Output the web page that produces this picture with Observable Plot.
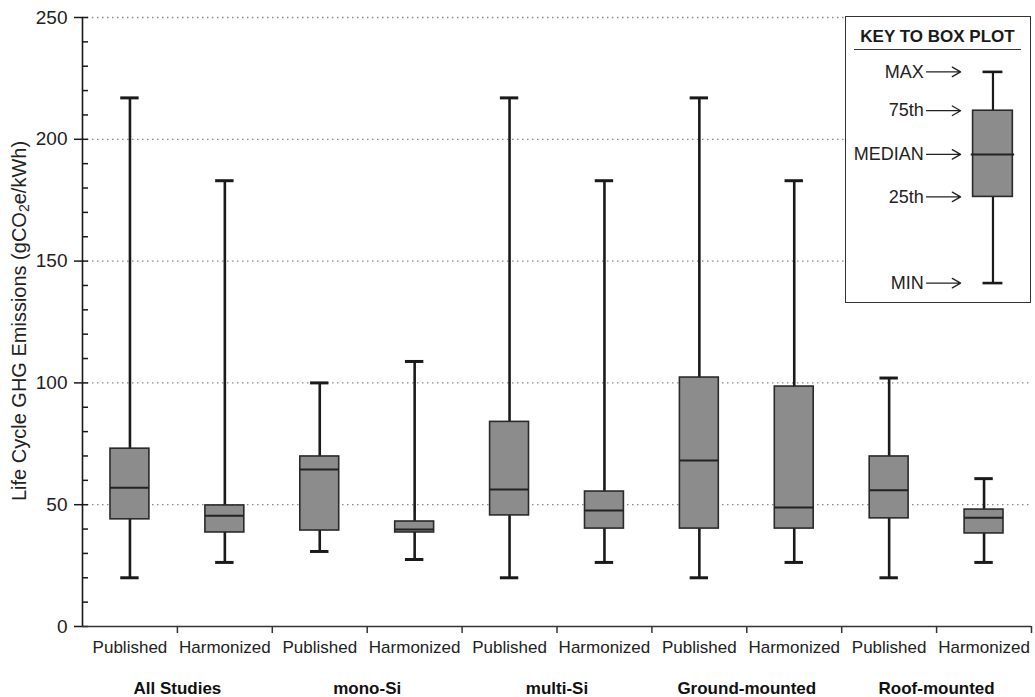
<!DOCTYPE html>
<html>
<head>
<meta charset="utf-8">
<script src="https://cdn.jsdelivr.net/npm/d3@7"></script>
<script src="https://cdn.jsdelivr.net/npm/@observablehq/plot@0.6"></script>
<style>
  html, body { margin: 0; padding: 0; background: #fff; }
  #wrap { position: relative; width: 1035px; height: 697px; font-family: "Liberation Sans", Arial, sans-serif; }
  #key { position: absolute; left: 845px; top: 16px; width: 184px; height: 285px; border: 1.5px solid #333; background: #fff; }
  #key .title { position: absolute; left: 8px; right: 9px; top: 12px; text-align: center; font-weight: bold; font-size: 17px; color: #1a1a1a; border-bottom: 1.5px solid #333; padding-bottom: 4px; line-height: 16px; }
  #keyplot { position: absolute; left: 0; top: 0; }
</style>
</head>
<body>
<div id="wrap">
  <div id="chart"></div>
  <div id="key"><div class="title">KEY TO BOX PLOT</div><div id="keyplot"></div></div>
</div>
<script>
// ---- data ----
const groups = ["All Studies", "mono-Si", "multi-Si", "Ground-mounted", "Roof-mounted"];
const types = ["Published", "Harmonized"];
const mins    = [20,   26.3, 30.8, 27.5, 20,   26.3, 20,    26.3, 20,   26.3];
const q1s     = [44,   38.6, 39.4, 38.6, 45.6, 40.2, 40.2,  40.2, 44.4, 38.2];
const medians = [57,   45.5, 64.4, 39.8, 56.2, 47.6, 68.1,  48.9, 55.9, 44.6];
const q3s     = [73,   49.7, 69.8, 43.1, 84,   55.4, 102.2, 98.5, 69.8, 48];
const maxs    = [217,  183,  100,  108.8, 217, 183,  217,   183,  102,  60.7];
const yTicks = [0, 50, 100, 150, 200, 250];
const yMinorTicks = d3.range(0, 251, 10);
const keyLabels = ["MAX", "75th", "MEDIAN", "25th", "MIN"];
const keyValues = [228, 212, 194, 176.5, 141];

// ---- table ----
const rows = [];
groups.forEach((g, gi) => types.forEach((t, ti) => {
  const i = gi * 2 + ti;
  rows.push({i, group: g, type: t, min: mins[i], q1: q1s[i], median: medians[i], q3: q3s[i], max: maxs[i]});
}));

const boxHalf = 0.205, capHalf = 0.097;
const font = '"Liberation Sans", Arial, sans-serif';
const ink = "#1a1a1a";
const boxFill = "#8c8c8c";

const chart = Plot.plot({
  width: 1035, height: 697,
  marginLeft: 82, marginRight: 4, marginTop: 17, marginBottom: 71,
  x: {domain: [0, 10], axis: null},
  y: {domain: [0, 250], axis: null},
  style: {fontFamily: font, background: "#fff", color: ink, overflow: "visible"},
  marks: [
    Plot.ruleY(yTicks.filter(d => d > 0), {stroke: "#8a8a8a", strokeWidth: 1.3, strokeDasharray: "1.5,3.5"}),
    Plot.axisY({ticks: yTicks, tickSize: 8, tickPadding: 7, fontSize: 19, label: null, stroke: ink, strokeWidth: 1.5, fill: "#222"}),
    Plot.axisY({ticks: yMinorTicks, tickSize: 6, dx: 6, tickFormat: () => "", label: null, stroke: ink, strokeWidth: 1.5}),
    Plot.axisX({ticks: d3.range(1, 11), tickSize: 7, tickFormat: () => "", label: null, stroke: "#333", strokeWidth: 1.5}),
    Plot.ruleX([0], {y1: 0, y2: 250, stroke: ink, strokeWidth: 1.6}),
    Plot.ruleY([0], {stroke: "#333", strokeWidth: 1.6}),
    // whiskers
    Plot.ruleX(rows, {x: d => d.i + 0.5, y1: "min", y2: "max", stroke: ink, strokeWidth: 2.6}),
    Plot.ruleY(rows, {y: "min", x1: d => d.i + 0.5 - capHalf, x2: d => d.i + 0.5 + capHalf, stroke: ink, strokeWidth: 3}),
    Plot.ruleY(rows, {y: "max", x1: d => d.i + 0.5 - capHalf, x2: d => d.i + 0.5 + capHalf, stroke: ink, strokeWidth: 3}),
    // boxes
    Plot.rect(rows, {x1: d => d.i + 0.5 - boxHalf, x2: d => d.i + 0.5 + boxHalf, y1: "q1", y2: "q3", fill: boxFill, stroke: "#2a2a2a", strokeWidth: 1.6}),
    Plot.ruleY(rows, {y: "median", x1: d => d.i + 0.5 - boxHalf, x2: d => d.i + 0.5 + boxHalf, stroke: "#222", strokeWidth: 2}),
    // category labels
    Plot.text(rows, {x: d => d.i + 0.5, y: () => 0, text: "type", dy: 21, fontSize: 17, fill: "#222"}),
    Plot.text(groups, {x: (d, gi) => gi * 2 + 1, y: () => 0, text: d => d, dy: 62, fontSize: 17, fontWeight: "bold", fill: "#111"})
  ]
});
document.getElementById("chart").appendChild(chart);

// y-axis title with subscript
const svg = d3.select(chart);
const lab = svg.append("text")
  .attr("transform", "translate(19,321) rotate(-90)")
  .attr("text-anchor", "middle")
  .attr("dominant-baseline", "central")
  .attr("font-size", 20)
  .attr("fill", "#222")
  .attr("font-family", font);
lab.append("tspan").text("Life Cycle GHG Emissions (gCO");
lab.append("tspan").attr("font-size", 14).attr("dy", 5).text("2");
lab.append("tspan").attr("dy", -5).text("e/kWh)");

// ---- key ----
const keyRow = {min: keyValues[4], q1: keyValues[3], median: keyValues[2], q3: keyValues[1], max: keyValues[0]};
const kx = 0.796, kBox = 0.108, kCap = 0.054;
const keyLab = keyLabels.map((l, j) => ({label: l, v: keyValues[j]}));
const keyPlot = Plot.plot({
  width: 184, height: 285,
  marginLeft: 0, marginRight: 0, marginTop: 0, marginBottom: 0,
  x: {domain: [0, 1], axis: null},
  y: {domain: [133, 250.4], axis: null},
  style: {fontFamily: font, background: "transparent", overflow: "visible"},
  marks: [
    Plot.ruleX([keyRow], {x: () => kx, y1: "min", y2: "max", stroke: ink, strokeWidth: 2.2}),
    Plot.ruleY([keyRow], {y: "min", x1: () => kx - kCap, x2: () => kx + kCap, stroke: ink, strokeWidth: 2.6}),
    Plot.ruleY([keyRow], {y: "max", x1: () => kx - kCap, x2: () => kx + kCap, stroke: ink, strokeWidth: 2.6}),
    Plot.rect([keyRow], {x1: () => kx - kBox, x2: () => kx + kBox, y1: "q1", y2: "q3", fill: boxFill, stroke: "#2a2a2a", strokeWidth: 1.6}),
    Plot.ruleY([keyRow], {y: "median", x1: () => kx - kBox - 0.01, x2: () => kx + kBox + 0.01, stroke: "#222", strokeWidth: 2}),
    Plot.text(keyLab, {x: () => 0.42, y: "v", text: "label", textAnchor: "end", fontSize: 18, fill: "#222"}),
    Plot.arrow(keyLab, {x1: () => 0.435, x2: () => 0.62, y1: "v", y2: "v", bend: 0, headLength: 11, headAngle: 60, stroke: "#222", strokeWidth: 1.3})
  ]
});
document.getElementById("keyplot").appendChild(keyPlot);
</script>
</body>
</html>
